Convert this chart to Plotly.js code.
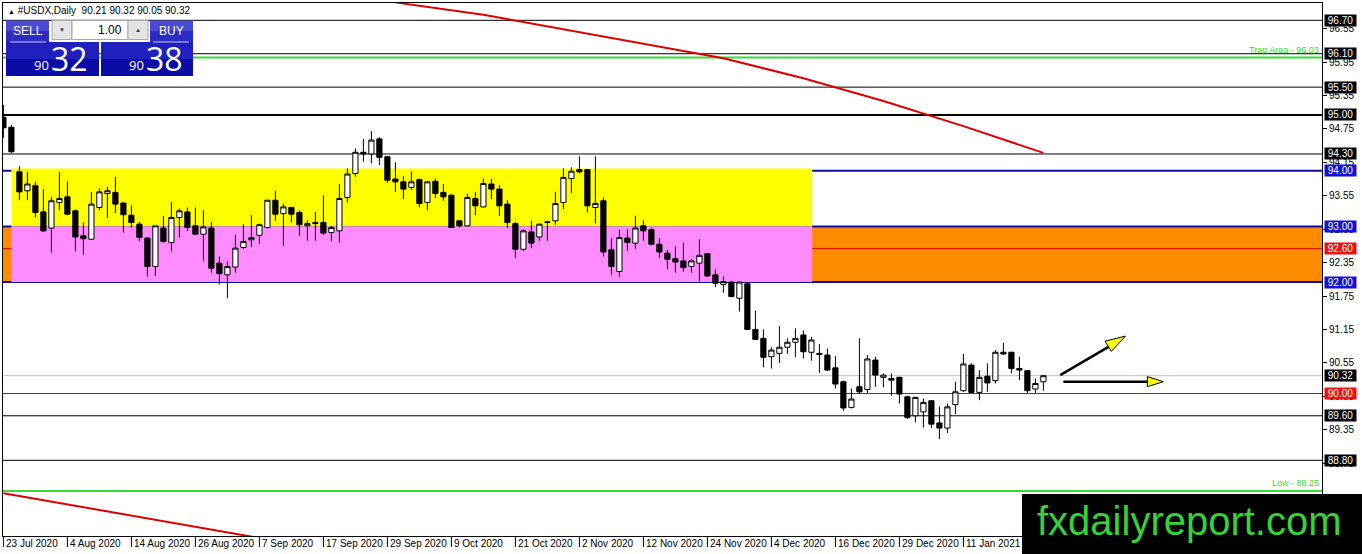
<!DOCTYPE html>
<html>
<head>
<meta charset="utf-8">
<script src="https://cdn.plot.ly/plotly-3.0.1.min.js"></script>
<style>
html,body{margin:0;padding:0;background:#fff;}
#chart{width:1362px;height:554px;}
</style>
</head>
<body>
<div id="chart"></div>
<script>
// ---- Daily #USDX candles (23 Jul 2020 .. 25 Jan 2021) ----
const open = [94.96,94.78,93.98,93.64,93.73,93.26,92.97,93.43,93.53,93.28,
92.83,92.77,93.34,93.59,93.61,93.42,93.20,93.04,92.79,92.28,
92.97,92.71,93.16,93.26,93.01,92.86,92.97,92.34,92.13,92.27,
92.62,92.76,92.84,92.98,93.47,93.23,93.34,93.25,93.01,93.07,
93.07,92.89,92.92,93.52,93.95,94.33,94.30,94.57,94.25,93.85,
93.80,93.70,93.84,93.43,93.81,93.61,93.56,93.10,93.01,93.50,
93.35,93.76,93.67,93.40,93.05,92.59,92.90,92.81,93.07,93.10,
93.43,93.86,94.02,94.02,93.34,93.46,92.58,92.19,92.79,92.70,
93.01,92.94,92.68,92.52,92.42,92.38,92.28,92.34,92.51,92.13,
91.96,92.00,91.71,91.97,91.15,90.99,90.66,90.72,90.83,90.92,
91.05,90.74,90.72,90.69,90.46,90.21,89.75,90.12,90.07,90.60,
90.29,90.27,90.29,89.94,89.60,89.67,89.87,89.47,89.38,89.80,
90.05,90.51,90.02,90.31,90.23,90.74,90.74,90.45,90.41,90.08,
90.21];
const high = [95.18,94.82,94.08,93.98,93.80,93.67,93.53,93.98,93.81,93.30,
93.07,93.62,93.68,93.71,93.89,93.43,93.38,93.08,92.80,93.01,
93.19,93.44,93.32,93.34,93.34,93.29,93.08,92.46,92.37,92.85,
93.04,93.20,93.05,93.47,93.64,93.41,93.34,93.29,93.11,93.26,
93.56,93.01,93.76,94.04,94.40,94.57,94.71,94.60,94.26,94.15,
93.90,93.99,93.86,93.81,93.86,93.76,93.58,93.11,93.58,93.62,
93.86,93.85,93.74,93.47,93.08,92.95,93.10,93.05,93.10,93.62,
94.04,94.06,94.26,94.03,94.26,93.52,92.79,92.94,92.95,93.19,
93.11,92.98,92.79,92.58,92.64,92.71,92.41,92.77,92.52,92.23,
92.10,92.01,92.01,91.98,91.49,91.15,90.83,91.21,90.99,91.17,
91.13,91.02,90.89,90.81,90.67,90.23,90.09,90.99,90.69,90.66,
90.36,90.36,90.30,89.96,89.94,89.91,89.88,89.77,89.82,90.21,
90.71,90.54,90.42,90.54,90.78,90.91,90.75,90.66,90.42,90.27,
90.32];
const low = [94.59,94.32,93.47,93.47,93.16,92.90,92.53,93.29,93.20,92.55,
92.49,92.76,93.29,93.15,93.24,92.89,92.98,92.73,92.10,92.11,
92.70,92.55,92.80,92.92,92.86,92.38,92.17,91.96,91.71,92.17,
92.60,92.63,92.68,92.96,93.10,92.65,93.07,92.83,92.74,92.74,
92.85,92.73,92.71,93.43,93.89,94.16,94.13,94.10,93.78,93.62,
93.49,93.65,93.34,93.29,93.51,93.46,92.98,92.98,93.00,93.20,
93.34,93.49,93.19,92.97,92.43,92.56,92.61,92.74,92.74,93.03,
93.31,93.60,93.95,93.25,93.05,92.46,92.13,92.10,92.56,92.59,
92.74,92.66,92.43,92.23,92.17,92.19,92.17,92.01,92.10,91.91,
91.81,91.73,91.47,91.14,90.96,90.47,90.45,90.55,90.71,90.65,
90.63,90.59,90.37,90.41,90.09,89.69,89.73,89.99,90.01,90.12,
90.11,89.96,89.82,89.54,89.48,89.39,89.38,89.18,89.29,89.63,
90.03,90.01,89.88,90.03,90.18,90.69,90.36,90.24,90.01,90.01,
90.05];
const close = [94.77,94.34,93.62,93.76,93.25,92.92,93.46,93.50,93.22,92.81,
92.78,93.40,93.62,93.64,93.40,93.21,93.07,92.80,92.28,93.01,
92.73,93.16,93.28,92.98,92.86,92.99,92.25,92.15,92.28,92.61,
92.73,92.80,93.03,93.47,93.22,93.35,93.22,93.03,93.05,93.05,
92.88,92.98,93.50,93.94,94.33,94.30,94.55,94.24,93.83,93.80,
93.67,93.80,93.41,93.80,93.59,93.53,92.98,93.01,93.52,93.37,
93.77,93.67,93.37,93.07,92.59,92.92,92.70,93.04,93.08,93.41,
93.88,93.99,93.98,93.37,93.41,92.54,92.28,92.80,92.71,92.97,
92.92,92.68,92.54,92.41,92.36,92.26,92.38,92.48,92.11,91.98,
92.01,91.74,92.00,91.15,90.97,90.65,90.78,90.83,90.92,90.99,
90.75,90.96,90.70,90.42,90.17,89.74,89.90,90.03,90.62,90.33,
90.33,90.24,89.99,89.57,89.93,89.84,89.45,89.38,89.76,90.03,
90.53,90.02,90.29,90.19,90.74,90.71,90.45,90.42,90.05,90.18,
90.32];

// x-axis date labels, one every 8 bars
const xTickIdx  = [0,8,16,24,32,40,48,56,64,72,80,88,96,104,112,120];
const xTickText = ['23 Jul 2020','4 Aug 2020','14 Aug 2020','26 Aug 2020','7 Sep 2020','17 Sep 2020',
  '29 Sep 2020','9 Oct 2020','21 Oct 2020','2 Nov 2020','12 Nov 2020','24 Nov 2020',
  '4 Dec 2020','16 Dec 2020','29 Dec 2020','11 Jan 2021'];

// right price scale ticks
const yTickVals = [88.75,89.35,89.95,90.55,91.15,91.75,92.35,92.95,93.55,94.15,94.75,95.35,95.95,96.55];

// red moving-average lines (upper and lower)
const maTopIdx = [45,50,60,70,80,90,100,110,120,130];
const maTopVal = [97.12,97.00,96.80,96.54,96.29,96.02,95.66,95.25,94.80,94.32];
const maBotIdx = [0,10,20,30,35];
const maBotVal = [88.21,87.96,87.71,87.455,87.33];

// horizontal price levels drawn on the chart
const levelPrices = [96.70,96.10,95.50,95.00,94.30,94.00,93.00,92.60,92.00,90.32,90.00,89.60,88.80];
const levelKinds  = ['k','k','k','K','k','b','b','r','b','g','r','k','k'];
const trapLevel = 96.03;
const lowLevel = 88.25;

// zones
const zoneYellow = [93.00, 94.04];
const zonePink = [92.00, 93.00];
const zoneStartIdx = 1, zoneEndIdx = 101.1;

const barIdx = open.map((_, i) => i);

// pixel geometry helpers for decorations (plot area 3..1322 x 3..536)
const PL = 3, PT = 3, PW = 1319, PH = 533;
const fx = px => (px - PL) / PW;
const fy = py => (PT + PH - py) / PH;

const FONT = 'Liberation Sans, Arial, sans-serif';

const traces = [
  {
    type: 'candlestick', x: barIdx, open: open, high: high, low: low, close: close,
    increasing: {line: {color: '#000', width: 1}, fillcolor: '#ffffff'},
    decreasing: {line: {color: '#000', width: 1}, fillcolor: '#000000'},
    whiskerwidth: 0, hoverinfo: 'skip', showlegend: false
  },
  {type: 'scatter', mode: 'lines', x: maTopIdx, y: maTopVal, line: {color: '#dd0000', width: 2}, hoverinfo: 'skip', showlegend: false},
  {type: 'scatter', mode: 'lines', x: maBotIdx, y: maBotVal, line: {color: '#dd0000', width: 2}, hoverinfo: 'skip', showlegend: false}
];

const shapes = [];
const annotations = [];

// zones (behind candles)
shapes.push({type: 'rect', layer: 'below', xref: 'paper', yref: 'y', x0: 0, x1: 1, y0: zonePink[0], y1: zonePink[1], fillcolor: '#ff8c00', line: {width: 0}});
shapes.push({type: 'rect', layer: 'below', xref: 'x', yref: 'y', x0: zoneStartIdx, x1: zoneEndIdx, y0: zoneYellow[0], y1: zoneYellow[1], fillcolor: '#ffff00', line: {width: 0}});
shapes.push({type: 'rect', layer: 'below', xref: 'x', yref: 'y', x0: zoneStartIdx, x1: zoneEndIdx, y0: zonePink[0], y1: zonePink[1], fillcolor: '#ff8cff', line: {width: 0}});

// level lines + right-side price boxes
const kindStyle = {
  k: {line: '#000000', w: 1, box: '#000000'},
  K: {line: '#000000', w: 2, box: '#000000'},
  b: {line: '#0c0ca8', w: 2, box: '#1010d8'},
  r: {line: '#dd0000', w: 1, box: '#ee1111'},
  g: {line: '#c0c0c0', w: 1, box: '#000000'}
};
shapes.push({type: 'line', layer: 'below', xref: 'paper', yref: 'y', x0: 0, x1: 1, y0: trapLevel, y1: trapLevel, line: {color: '#33dd33', width: 2}});
shapes.push({type: 'line', layer: 'below', xref: 'paper', yref: 'y', x0: 0, x1: 1, y0: lowLevel, y1: lowLevel, line: {color: '#33dd33', width: 2}});
levelPrices.forEach((p, k) => {
  const s = kindStyle[levelKinds[k]];
  shapes.push({type: 'line', layer: 'below', xref: 'paper', yref: 'y', x0: 0, x1: 1, y0: p, y1: p, line: {color: s.line, width: s.w}});
  annotations.push({xref: 'paper', yref: 'y', x: 1, y: p, xanchor: 'left', yanchor: 'middle', xshift: 2,
    text: p.toFixed(2), showarrow: false, bgcolor: s.box, borderpad: 0, width: 31, height: 11,
    font: {family: FONT, size: 10, color: '#ffffff'}});
});
annotations.push({xref: 'paper', yref: 'y', x: 1, y: trapLevel, xanchor: 'right', yanchor: 'bottom', yshift: 1, xshift: -1,
  text: 'Trap Area - ' + trapLevel.toFixed(2), showarrow: false, font: {family: FONT, size: 9, color: '#33dd33'}});
annotations.push({xref: 'paper', yref: 'y', x: 1, y: lowLevel, xanchor: 'right', yanchor: 'bottom', yshift: 1, xshift: -1,
  text: 'Low - ' + lowLevel.toFixed(2), showarrow: false, font: {family: FONT, size: 9, color: '#33dd33'}});

// x-axis labels (left aligned at tick marks)
xTickIdx.forEach((t, k) => {
  shapes.push({type: 'line', xref: 'x', yref: 'paper', x0: t, x1: t, y0: 0, y1: fy(547), line: {color: '#000', width: 1}});
  annotations.push({xref: 'x', yref: 'paper', x: t, y: fy(543), xanchor: 'left', yanchor: 'middle', xshift: 1,
    text: xTickText[k], showarrow: false, font: {family: FONT, size: 10, color: '#000'}});
});

// arrows (drawn objects)
shapes.push({type: 'line', layer: 'above', xref: 'x', yref: 'y', x0: 132.1, y0: 90.33, x1: 138.3, y1: 90.85, line: {color: '#000', width: 2.5}});
shapes.push({type: 'path', layer: 'above', xref: 'x', yref: 'y', path: 'M140.25,91.03 L138.5,90.756 L137.7,90.939 Z', fillcolor: '#ffff00', line: {color: '#000', width: 1}});
shapes.push({type: 'line', layer: 'above', xref: 'x', yref: 'y', x0: 132.5, y0: 90.212, x1: 143.2, y1: 90.212, line: {color: '#000', width: 2.5}});
shapes.push({type: 'path', layer: 'above', xref: 'x', yref: 'y', path: 'M145,90.212 L143,90.302 L143,90.122 Z', fillcolor: '#ffff00', line: {color: '#000', width: 1}});

// trade panel (one-click trading)
function rect(x0, y0, x1, y1, fill, lineColor) {
  shapes.push({type: 'rect', layer: 'above', xref: 'paper', yref: 'paper', x0: fx(x0), x1: fx(x1), y0: fy(y1), y1: fy(y0),
    fillcolor: fill, line: lineColor ? {color: lineColor, width: 1} : {width: 0}});
}
function txt(x, y, t, size, color, anchor, family) {
  annotations.push({xref: 'paper', yref: 'paper', x: fx(x), y: fy(y), xanchor: anchor || 'center', yanchor: 'middle',
    text: t, showarrow: false, font: {family: family || FONT, size: size, color: color}});
}
rect(6, 20.5, 49, 31, '#4a4ad4');
rect(6, 31, 49, 42, '#2c2cc2');
rect(150, 20.5, 193, 31, '#4a4ad4');
rect(150, 31, 193, 42, '#2c2cc2');
rect(6, 42, 99, 59, '#2020be');
rect(6, 59, 99, 76, '#0b0ba6');
rect(101, 42, 193, 59, '#2020be');
rect(101, 59, 193, 76, '#0b0ba6');
shapes.push({type: 'line', layer: 'above', xref: 'paper', yref: 'paper', x0: fx(10), x1: fx(46), y0: fy(42), y1: fy(42), line: {color: '#c8c8f0', width: 1}});
shapes.push({type: 'line', layer: 'above', xref: 'paper', yref: 'paper', x0: fx(153), x1: fx(189), y0: fy(42), y1: fy(42), line: {color: '#c8c8f0', width: 1}});
rect(52, 20.5, 72, 39.5, '#e4e4e4', '#a8a8a8');
rect(72, 20.5, 128, 39.5, '#ffffff', '#a8a8a8');
rect(128, 20.5, 148, 39.5, '#e4e4e4', '#a8a8a8');
txt(27.5, 30.5, 'SELL', 12, '#ffffff');
txt(171.5, 30.5, 'BUY', 12, '#ffffff');
txt(62, 30, '▼', 6, '#333333');
txt(138, 30, '▲', 6, '#333333');
txt(124, 30, '1.00', 12, '#000000', 'right');
txt(41.5, 64.5, '90', 13, '#ffffff', 'center', 'Open Sans, sans-serif');
txt(69.5, 58, '32', 32, '#ffffff', 'center', 'Open Sans, sans-serif');
txt(136, 64.5, '90', 13, '#ffffff', 'center', 'Open Sans, sans-serif');
txt(164.5, 58, '38', 32, '#ffffff', 'center', 'Open Sans, sans-serif');

// header
const n = close.length - 1;
annotations.push({xref: 'paper', yref: 'paper', x: fx(6), y: fy(10.5), xanchor: 'left', yanchor: 'middle', showarrow: false,
  text: '<span style="font-size:7px">▲</span> #USDX,Daily\u00a0\u00a0' + [open[n], high[n], low[n], close[n]].map(v => v.toFixed(2)).join(' '),
  font: {family: FONT, size: 10, color: '#000'}});

// logo box
rect(1022, 494, 1362, 554, '#000000');
txt(1189, 521, 'fxdailyreport.com', 40, '#36d336');

const layout = {
  width: 1362, height: 554,
  margin: {l: PL, r: 1362 - PL - PW, t: PT, b: 554 - PT - PH, pad: 0},
  paper_bgcolor: '#ffffff', plot_bgcolor: '#ffffff',
  showlegend: false,
  boxgap: 0.35, boxgroupgap: 0,
  xaxis: {
    range: [-0.05, -0.05 + PW / 8], showgrid: false, zeroline: false,
    showline: true, mirror: true, linecolor: '#000', linewidth: 1,
    showticklabels: false, ticks: '', rangeslider: {visible: false}, fixedrange: true
  },
  yaxis: {
    side: 'right', range: [97.0645 - (PT + PH) / 55.7, 97.0645 - PT / 55.7],
    tickvals: yTickVals, ticktext: yTickVals.map(v => v.toFixed(2)),
    ticks: 'outside', ticklen: 4, tickcolor: '#000', tickwidth: 1,
    showgrid: false, zeroline: false, showline: true, mirror: true, linecolor: '#000', linewidth: 1,
    tickfont: {family: FONT, size: 10, color: '#000'}, fixedrange: true
  },
  shapes: shapes,
  annotations: annotations
};

Plotly.newPlot('chart', traces, layout, {staticPlot: true, displayModeBar: false});
</script>
</body>
</html>
